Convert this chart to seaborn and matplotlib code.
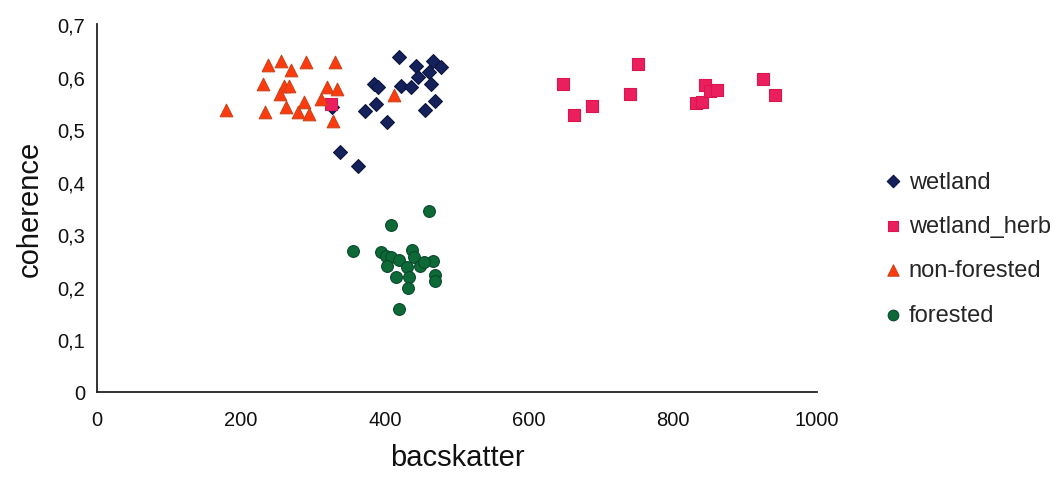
import numpy as np
import pandas as pd
import matplotlib
matplotlib.use("Agg")
import matplotlib.pyplot as plt
import seaborn as sns
from matplotlib.ticker import FuncFormatter

# values
wetland_x = [420, 443, 467, 478, 461, 446, 464, 385, 390, 422, 436, 388, 372, 403, 456, 469, 362, 338, 327]
wetland_y = [0.637, 0.620, 0.630, 0.618, 0.609, 0.600, 0.586, 0.586, 0.580, 0.583, 0.580, 0.548, 0.535, 0.513,
             0.537, 0.554, 0.430, 0.456, 0.542]

herb_x = [647, 662, 688, 740, 752, 832, 840, 844, 851, 861, 925, 942, 325]
herb_y = [0.586, 0.527, 0.545, 0.568, 0.624, 0.550, 0.552, 0.584, 0.572, 0.574, 0.595, 0.566, 0.548]

nonfor_x = [179, 237, 255, 270, 291, 330, 231, 234, 260, 267, 254, 262, 279, 287, 295, 311, 319, 333, 328, 413]
nonfor_y = [0.536, 0.622, 0.630, 0.613, 0.629, 0.629, 0.587, 0.532, 0.583, 0.583, 0.567, 0.542, 0.533, 0.551,
            0.529, 0.557, 0.580, 0.576, 0.516, 0.565]

forest_x = [356, 409, 461, 394, 402, 409, 420, 437, 441, 403, 430, 449, 467, 416, 434, 469, 469, 432, 419, 454]
forest_y = [0.268, 0.318, 0.344, 0.267, 0.259, 0.256, 0.252, 0.271, 0.256, 0.240, 0.237, 0.239, 0.250, 0.218,
            0.218, 0.223, 0.212, 0.197, 0.158, 0.248]

classes = ["wetland", "wetland_herb", "non-forested", "forested"]
xs = [wetland_x, herb_x, nonfor_x, forest_x]
ys = [wetland_y, herb_y, nonfor_y, forest_y]

df = pd.concat([pd.DataFrame({"bacskatter": x, "coherence": y, "class": c})
                for c, x, y in zip(classes, xs, ys)], ignore_index=True)

sns.set_style("white")
plt.rcParams["font.family"] = ["Liberation Sans", "DejaVu Sans"]

colors = {"wetland": "#14215a", "wetland_herb": "#ec1f5e", "non-forested": "#ff3a0f", "forested": "#0d6a37"}
edges = {"wetland": "#0c1640", "wetland_herb": "#d8174f", "non-forested": "#c9431a", "forested": "#08482a"}
markers = {"wetland": "D", "wetland_herb": "s", "non-forested": "^", "forested": "o"}
sizes = {"wetland": 50, "wetland_herb": 72, "non-forested": 82, "forested": 72}

fig = plt.figure(figsize=(10.62, 4.85), dpi=100)
ax = fig.add_axes([0.0913, 0.19, 0.678, 0.758])

for c in classes:
    sns.scatterplot(data=df[df["class"] == c], x="bacskatter", y="coherence", ax=ax,
                    color=colors[c], marker=markers[c], s=sizes[c], edgecolor=edges[c],
                    linewidth=0.8, label=c, zorder=3)

ax.set_xlim(0, 1000)
ax.set_ylim(0, 0.7)
ax.set_xticks(np.arange(0, 1001, 200))
ax.set_yticks(np.arange(0, 0.71, 0.1))
ax.yaxis.set_major_formatter(FuncFormatter(lambda v, p: "0" if abs(v) < 1e-9 else f"{v:.1f}".replace(".", ",")))
for s in ["top", "right"]:
    ax.spines[s].set_visible(False)
for s in ["left", "bottom"]:
    ax.spines[s].set_color("#222222")
    ax.spines[s].set_linewidth(1.3)
ax.tick_params(axis="both", direction="out", length=5, width=1.2, colors="#222222", labelsize=14.5,
               labelcolor="#111111")
ax.tick_params(axis="x", pad=8)
ax.set_xlabel("bacskatter", fontsize=21, labelpad=10, color="#111111")
ax.set_ylabel("coherence", fontsize=21, labelpad=10, color="#111111")

ax.legend_.remove()
handles, labels = ax.get_legend_handles_labels()
fig.legend(handles, labels, loc="upper left", bbox_to_anchor=(0.81, 0.69), frameon=False,
           fontsize=17, labelspacing=0.95, handletextpad=0.15, markerscale=0.9, handlelength=1.0)

fig.savefig("out.png", dpi=100)
